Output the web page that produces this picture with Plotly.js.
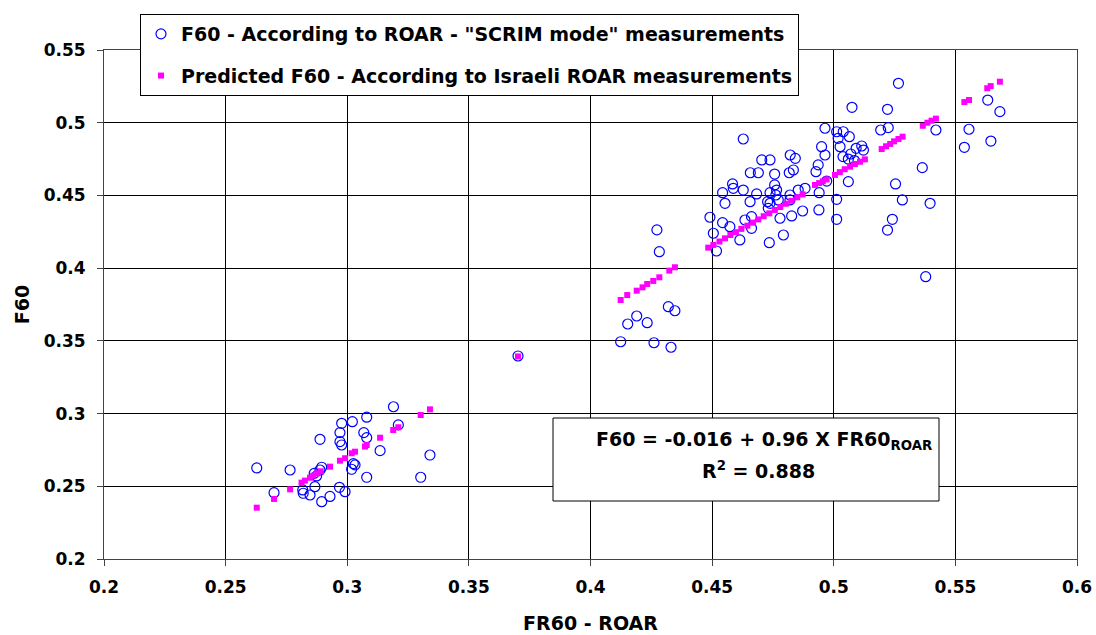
<!DOCTYPE html>
<html>
<head>
<meta charset="utf-8">
<script src="https://cdn.plot.ly/plotly-3.0.1.min.js"></script>
<style>html,body{margin:0;padding:0;background:#fff;}#chart{width:1096px;height:635px;}</style>
</head>
<body>
<div id="chart"></div>
<script>
// Measured F60 (SCRIM mode) vs FR60 - ROAR
const measuredX = [
  0.2628,0.2699,0.2765,0.2888,0.2817,0.2819,0.2847,0.2867,0.2895,0.2929,0.2864,0.2888,0.2895,0.2874,0.2968,0.2991,0.2970,0.2977,0.2970,0.2977,0.3021,0.3080,0.3190,0.3068,0.3080,0.3135,0.3210,0.3025,0.3032,0.3018,0.3080,0.3302,0.3340,
  0.3702,
  0.4273,0.4283,0.4153,0.4190,0.4233,0.4320,0.4347,0.4124,0.4261,0.4331,
  0.4628,0.4964,0.5012,0.5039,0.5064,0.5018,0.4950,0.5026,0.5092,0.5115,0.5122,0.4964,0.5038,0.5060,0.5085,0.5070,
  0.4821,0.4842,0.4704,0.4738,0.4936,0.4834,0.4817,0.4927,0.4657,0.4690,0.4757,0.4971,0.5060,0.4584,0.4757,0.4587,
  0.4543,0.4628,0.4683,0.4738,0.4765,0.4762,0.4820,0.4854,0.4882,0.4940,0.5012,0.4553,0.4656,0.4728,0.4738,0.4772,
  0.4820,0.4731,0.4779,0.4827,0.4872,0.4939,0.5012,0.4491,0.4543,0.4573,0.4635,0.4662,0.4662,0.4505,0.4614,0.4793,
  0.4735,0.4518,
  0.5266,0.5075,0.5221,0.5193,0.5224,0.5420,0.5364,0.5254,0.5282,0.5396,0.5241,0.5221,0.5378,0.5556,0.5537,0.5633,0.5683,0.5646
];
const measuredY = [
  0.2626,0.2456,0.2612,0.2823,0.2475,0.2452,0.2440,0.2497,0.2394,0.2430,0.2589,0.2612,0.2631,0.2571,0.2493,0.2463,0.2807,0.2784,0.2869,0.2933,0.2944,0.2975,0.3047,0.2869,0.2834,0.2745,0.2922,0.2656,0.2647,0.2617,0.2562,0.2562,0.2715,
  0.3396,
  0.4263,0.4113,0.3616,0.3671,0.3625,0.3735,0.3707,0.3494,0.3487,0.3456,
  0.4888,0.4962,0.4938,0.4938,0.4904,0.4893,0.4835,0.4835,0.4824,0.4840,0.4812,0.4778,0.4767,0.4750,0.4740,0.4785,
  0.4778,0.4755,0.4744,0.4744,0.4710,0.4675,0.4656,0.4663,0.4656,0.4656,0.4647,0.4599,0.4595,0.4579,0.4572,0.4549,
  0.4519,0.4537,0.4510,0.4519,0.4537,0.4503,0.4503,0.4537,0.4549,0.4519,0.4473,0.4446,0.4457,0.4457,0.4446,0.4469,
  0.4469,0.4411,0.4343,0.4359,0.4393,0.4400,0.4336,0.4350,0.4313,0.4285,0.4331,0.4354,0.4274,0.4240,0.4194,0.4228,
  0.4175,0.4118,
  0.5271,0.5106,0.5092,0.4950,0.4966,0.4950,0.4691,0.4579,0.4469,0.4446,0.4336,0.4262,0.3941,0.4955,0.4831,0.5156,0.5076,0.4874
];

// Predicted F60 from Israeli ROAR measurements
const predictedX = [
  0.2628,0.2699,0.2765,0.2812,0.2826,0.2847,0.2860,0.2877,0.2891,0.2929,0.2970,0.2991,0.3018,0.3032,0.3073,0.3080,0.3135,0.3189,0.3210,0.3302,0.3340,
  0.3702,
  0.4124,0.4151,0.4190,0.4214,0.4233,0.4258,0.4283,0.4324,0.4347,
  0.4484,0.4505,0.4530,0.4553,0.4575,0.4598,0.4620,0.4645,0.4668,0.4690,0.4712,0.4735,0.4758,0.4780,0.4803,0.4826,0.4850,0.4872,
  0.4923,0.4940,0.4955,0.4971,
  0.5005,0.5025,0.5045,0.5067,0.5087,0.5108,0.5128,
  0.5197,0.5215,0.5232,0.5248,0.5266,0.5283,
  0.5366,0.5385,0.5402,0.5420,
  0.5537,0.5556,
  0.5631,0.5645,0.5683
];
const predictedY = [
  0.2353,0.2413,0.2479,0.2525,0.2539,0.2559,0.2573,0.2589,0.2603,0.2635,0.2676,0.2693,0.2727,0.2738,0.2773,0.2784,0.2834,0.2887,0.2906,0.2990,0.3029,
  0.3393,
  0.3781,0.3815,0.3845,0.3868,0.3891,0.3912,0.3937,0.3983,0.4006,
  0.4141,0.4160,0.4183,0.4205,0.4228,0.4247,0.4270,0.4292,0.4313,0.4335,0.4357,0.4377,0.4400,0.4420,0.4443,0.4463,0.4487,0.4507,
  0.4572,0.4585,0.4597,0.4610,
  0.4641,0.4660,0.4680,0.4698,0.4716,0.4732,0.4748,
  0.4819,0.4838,0.4854,0.4872,0.4888,0.4904,
  0.4979,0.5000,0.5014,0.5028,
  0.5142,0.5156,
  0.5237,0.5252,0.5282
];

const seriesNames = [
  'F60 - According to ROAR - "SCRIM mode" measurements',
  'Predicted F60 - According to Israeli ROAR measurements'
];
const xTitle = 'FR60 - ROAR';
const yTitle = 'F60';
const equationLine1 = 'F60 = -0.016 + 0.96 X FR60<sub>ROAR</sub>';
const equationLine2 = 'R<sup>2</sup> = 0.888';

const FONT = '"DejaVu Sans", "Liberation Sans", Arial, sans-serif';

const traces = [
  {
    x: measuredX, y: measuredY, type: 'scatter', mode: 'markers',
    name: seriesNames[0], legendgroup: 'a',
    marker: {symbol: 'circle-open', size: 10, color: '#0000FF', line: {width: 1.2, color: '#0000FF'}}
  },
  {
    x: predictedX, y: predictedY, type: 'scatter', mode: 'markers',
    name: seriesNames[1], legendgroup: 'b',
    marker: {symbol: 'square', size: 6, color: '#FF00FF', line: {width: 0}}
  }
];

const layout = {
  width: 1096, height: 635,
  margin: {l: 104, r: 19, t: 50, b: 76},
  paper_bgcolor: '#fff', plot_bgcolor: '#fff',
  font: {family: FONT, color: '#000', size: 18},
  showlegend: true,
  legend: {
    x: 0.037, y: 1.0707, xanchor: 'left', yanchor: 'top',
    bgcolor: '#fff', bordercolor: '#000', borderwidth: 1,
    font: {family: FONT, size: 19, color: '#000', weight: 'bold'},
    traceorder: 'grouped', tracegroupgap: 14, itemsizing: 'trace'
  },
  xaxis: {
    range: [0.2, 0.6], dtick: 0.05, tick0: 0.2,
    showgrid: true, gridcolor: '#000', gridwidth: 1,
    zeroline: false, showline: true, linecolor: '#444', linewidth: 1, mirror: true,
    ticks: 'outside', ticklen: 6, tickcolor: '#444', ticklabelstandoff: 7,
    tickfont: {family: FONT, size: 17, weight: 'bold'},
    title: {text: xTitle, font: {family: FONT, size: 19, weight: 'bold'}, standoff: 20}
  },
  yaxis: {
    range: [0.2, 0.55], dtick: 0.05, tick0: 0.2,
    showgrid: true, gridcolor: '#000', gridwidth: 1,
    zeroline: false, showline: true, linecolor: '#444', linewidth: 1, mirror: true,
    ticks: 'outside', ticklen: 6, tickcolor: '#444', ticklabelstandoff: 8,
    tickfont: {family: FONT, size: 17, weight: 'bold'},
    title: {text: yTitle, font: {family: FONT, size: 19, weight: 'bold'}, standoff: 8}
  },
  shapes: [
    {type: 'rect', xref: 'paper', yref: 'paper',
     x0: (553-104)/973, x1: (939-104)/973, y0: (559-501)/509, y1: (559-418)/509,
     fillcolor: '#fff', line: {color: '#000', width: 1}, layer: 'above'}
  ],
  annotations: [
    {xref: 'paper', yref: 'paper', x: (764-104)/973, y: (559-440)/509,
     xanchor: 'center', yanchor: 'middle', showarrow: false, align: 'center',
     text: equationLine1,
     font: {family: FONT, size: 19, color: '#000', weight: 'bold'}},
    {xref: 'paper', yref: 'paper', x: (758-104)/973, y: (559-470)/509,
     xanchor: 'center', yanchor: 'middle', showarrow: false, align: 'center',
     text: equationLine2,
     font: {family: FONT, size: 19, color: '#000', weight: 'bold'}}
  ]
};

Plotly.newPlot('chart', traces, layout, {staticPlot: true, displayModeBar: false});
</script>
</body>
</html>
